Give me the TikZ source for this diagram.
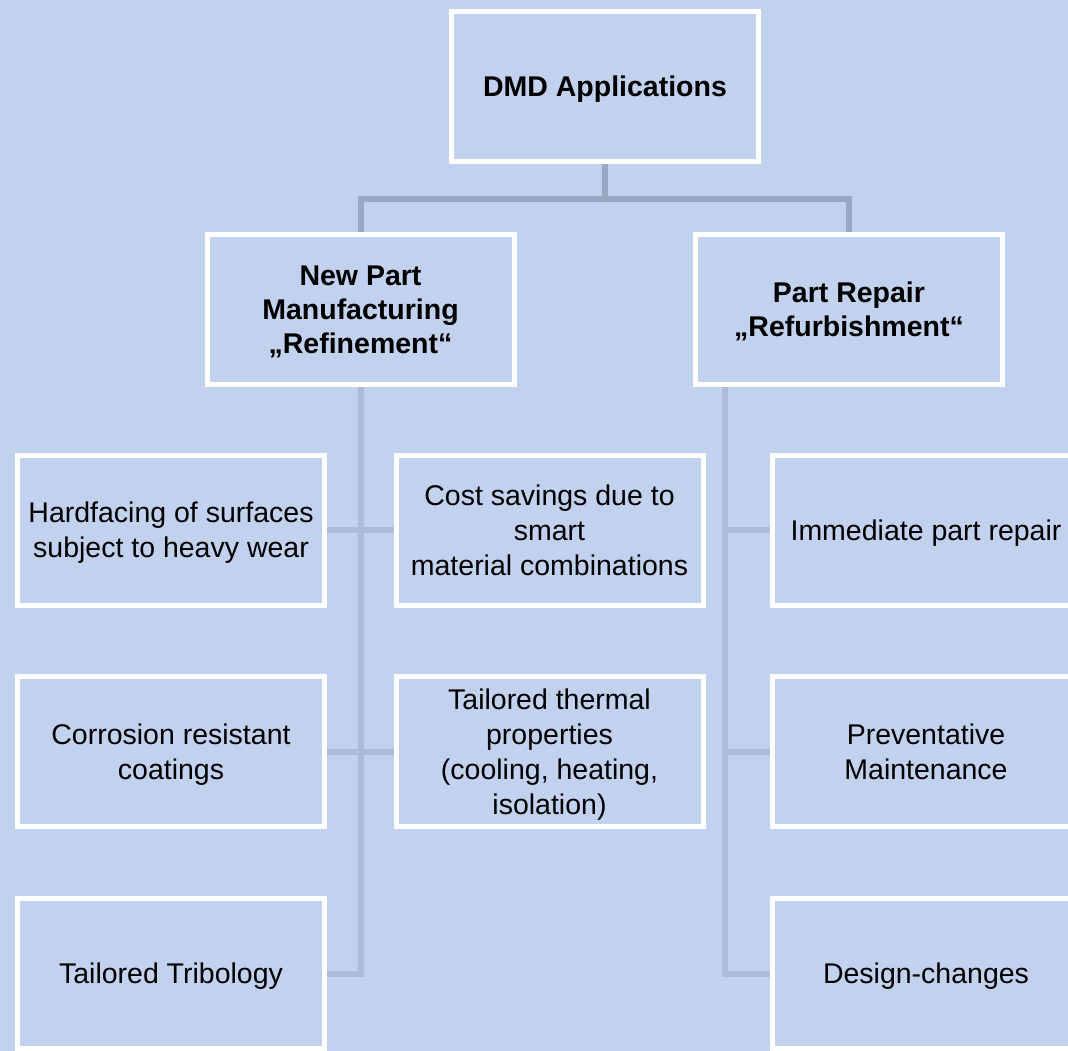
\documentclass[tikz,border=0pt]{standalone}
\usepackage{fontspec}
\setmainfont{Liberation Sans}
\usetikzlibrary{backgrounds}
\definecolor{bgblue}{HTML}{C2D1EE}
\definecolor{linetop}{HTML}{9AA7C2}
\definecolor{linelow}{HTML}{ADBBD8}

\begin{document}
\begin{tikzpicture}[x=1pt,y=-1pt,
        box/.style={draw=white, line width=5pt, fill=bgblue, minimum width=307pt, minimum height=150pt,
            inner sep=0pt, outer sep=0pt, text depth=0pt, align=center, font=\fontsize{28.5}{35}\selectfont},
        head/.style={box, font=\fontsize{28.5}{34}\selectfont\bfseries},
        link/.style={line width=6pt}]
        \useasboundingbox (0,0) rectangle (1068,1051);
        \clip (0,0) rectangle (1068,1051);

        \node[head] (root)    at (605,86.5)    {DMD Applications};
        \node[head] (newpart) at (360.5,309.5) {New Part\\Manufacturing\\„Refinement“};
        \node[head] (repair)  at (849,309.5)   {Part Repair\\„Refurbishment“};

        \node[box] (hard)    at (171,530)     {Hardfacing of surfaces\\subject to heavy wear};
        \node[box] (cost)    at (549.5,530)   {Cost savings due to\\smart\\material combinations};
        \node[box] (immed)   at (926,530)     {Immediate part repair};
        \node[box] (corr)    at (171,751.5)   {Corrosion resistant\\coatings};
        \node[box] (thermal) at (549.5,751.5) {Tailored thermal\\properties\\(cooling, heating,\\isolation)};
        \node[box] (prevent) at (926,751.5)   {Preventative\\Maintenance};
        \node[box] (tribo)   at (171,973.5)   {Tailored Tribology};
        \node[box] (design)  at (926,973.5)   {Design-changes};

        \coordinate (rtop) at ([xshift=29.5pt]repair.south west);

        \begin{scope}[on background layer]
            \fill[bgblue] (0,0) rectangle (1068,1051);
            \draw[link, linetop] (root.south) -- ++(0,38) -| (newpart.north);
            \draw[link, linetop] (root.south) -- ++(0,38) -| (repair.north);
            \draw[link, linelow] (newpart.south) |- (tribo.east);
            \draw[link, linelow] (hard.east) -- (cost.west);
            \draw[link, linelow] (corr.east) -- (thermal.west);
            \draw[link, linelow] (rtop) |- (design.west);
            \draw[link, linelow] (rtop |- immed.west) -- (immed.west);
            \draw[link, linelow] (rtop |- prevent.west) -- (prevent.west);
        \end{scope}
    \end{tikzpicture}
\end{document}
